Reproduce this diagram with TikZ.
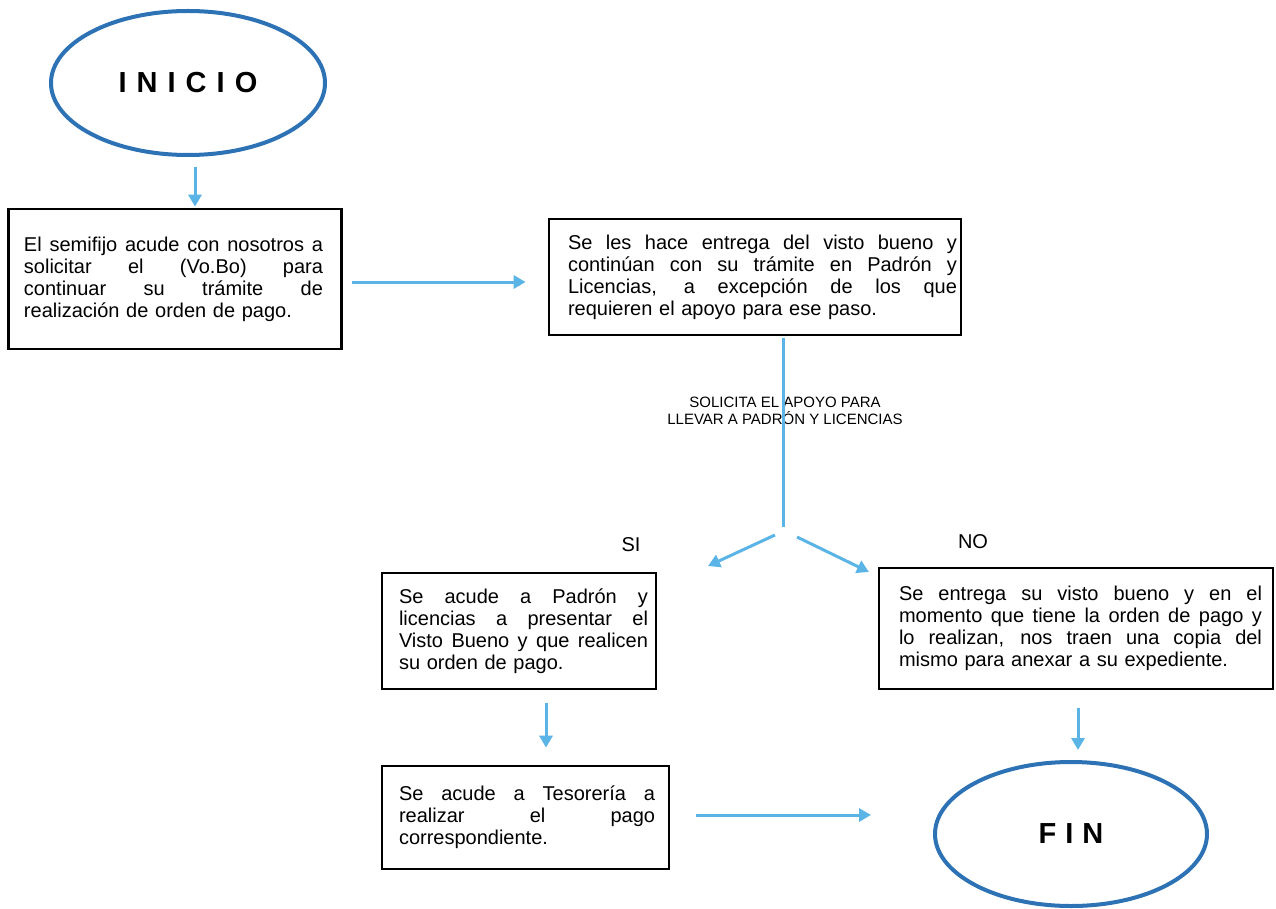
\documentclass[tikz,border=0pt]{standalone}
\usepackage{fontspec}
\setmainfont{Liberation Sans}
\usetikzlibrary{shapes.geometric,arrows.meta}
\definecolor{arrblue}{RGB}{91,180,230}
\definecolor{ellblue}{RGB}{44,114,180}
\newcommand\jln[3]{\hspace*{#1pt}\hbox to #2pt{\spaceskip=0.278em plus 1fil\relax #3}\\}
\newcommand\lln[2]{\hspace*{#1pt}#2}
\begin{document}
\begin{tikzpicture}[x=1pt,y=-1pt,
  box/.style={draw=black,line width=2.7pt,rectangle,inner sep=0pt,align=left,
    font=\fontsize{20}{22}\selectfont},
  term/.style={draw=ellblue,line width=4pt,ellipse,inner sep=0pt,
    font=\fontsize{29}{32}\selectfont\bfseries},
  arr/.style={draw=arrblue,line width=3pt,-{Triangle[width=13pt,length=12pt]}},
  plainline/.style={draw=arrblue,line width=3pt},
  lbl/.style={inner sep=0pt,align=center,font=\fontsize{15}{17}\selectfont},
  yesno/.style={inner sep=0pt,font=\fontsize{20}{22}\selectfont}]
\useasboundingbox (0,0) rectangle (1276,909);

\node[term,minimum width=274pt,minimum height=144pt] (inicio) at (188,83)
  {I\hspace{10pt}N\hspace{10pt}I\hspace{10pt}C\hspace{10pt}I\hspace{10pt}O};

\node[box,text width=333pt,minimum height=140pt] (box1) at (175,279) {%
\jln{15.5}{299}{El semifijo acude con nosotros a}
\jln{15.5}{299}{solicitar el (Vo.Bo) para}
\jln{15.5}{299}{continuar su trámite de}
\lln{15.5}{realización de orden de pago.}};

\node[box,text width=412pt,minimum height=116pt] (box2) at (755,277) {%
\jln{19}{389}{Se les hace entrega del visto bueno y}
\jln{19}{389}{continúan con su trámite en Padrón y}
\jln{19}{389}{Licencias, a excepción de los que}
\lln{19}{requieren el apoyo para ese paso.}};

\node[lbl] (cond) at (785,411) {SOLICITA EL APOYO PARA\\LLEVAR A PADRÓN Y LICENCIAS};

\coordinate (fork) at (783,527);
\coordinate (siend) at (708,566);
\coordinate (noend) at (869,572);

\node[yesno] (si) at (631,545) {SI};
\node[yesno] (no) at (973,542) {NO};

\node[box,text width=274pt,minimum height=116pt] (box3) at (519,631) {%
\jln{17}{249}{Se acude a Padrón y}
\jln{17}{249}{licencias a presentar el}
\jln{17}{249}{Visto Bueno y que realicen}
\lln{17}{su orden de pago.}};

\node[box,text width=394pt,minimum height=121pt] (box4) at (1076,628.5) {%
\jln{20}{363}{Se entrega su visto bueno y en el}
\jln{20}{363}{momento que tiene la orden de pago y}
\jln{20}{363}{lo realizan, nos traen una copia del}
\lln{20}{mismo para anexar a su expediente.}};

\node[box,text width=287pt,minimum height=103pt] (box5) at (525.5,817.5) {%
\jln{17}{256}{Se acude a Tesorería a}
\jln{17}{256}{realizar el pago}
\lln{17}{correspondiente.}};

\node[term,minimum width=272pt,minimum height=144pt] (fin) at (1071,834)
  {F\hspace{9pt}I\hspace{9pt}N};

\draw[arr] ([shift={(7,10)}]inicio.south) -- ([shift={(20,-1)}]box1.north);
\draw[arr] ([shift={(9,3)}]box1.east) -- ([shift={(-22,5)}]box2.west);
\draw[plainline] ([shift={(28,2)}]box2.south) -- (fork);
\draw[arr] ([shift={(-8,8)}]fork) -- (siend);
\draw[arr] ([shift={(14,10)}]fork) -- (noend);
\draw[arr] ([shift={(27,13)}]box3.south) -- ([shift={(20.5,-17)}]box5.north);
\draw[arr] ([shift={(26,-2.5)}]box5.east) -- ([shift={(-62,-19)}]fin.west);
\draw[arr] ([shift={(2,17.5)}]box4.south) -- ([shift={(7,-10)}]fin.north);
\end{tikzpicture}
\end{document}
